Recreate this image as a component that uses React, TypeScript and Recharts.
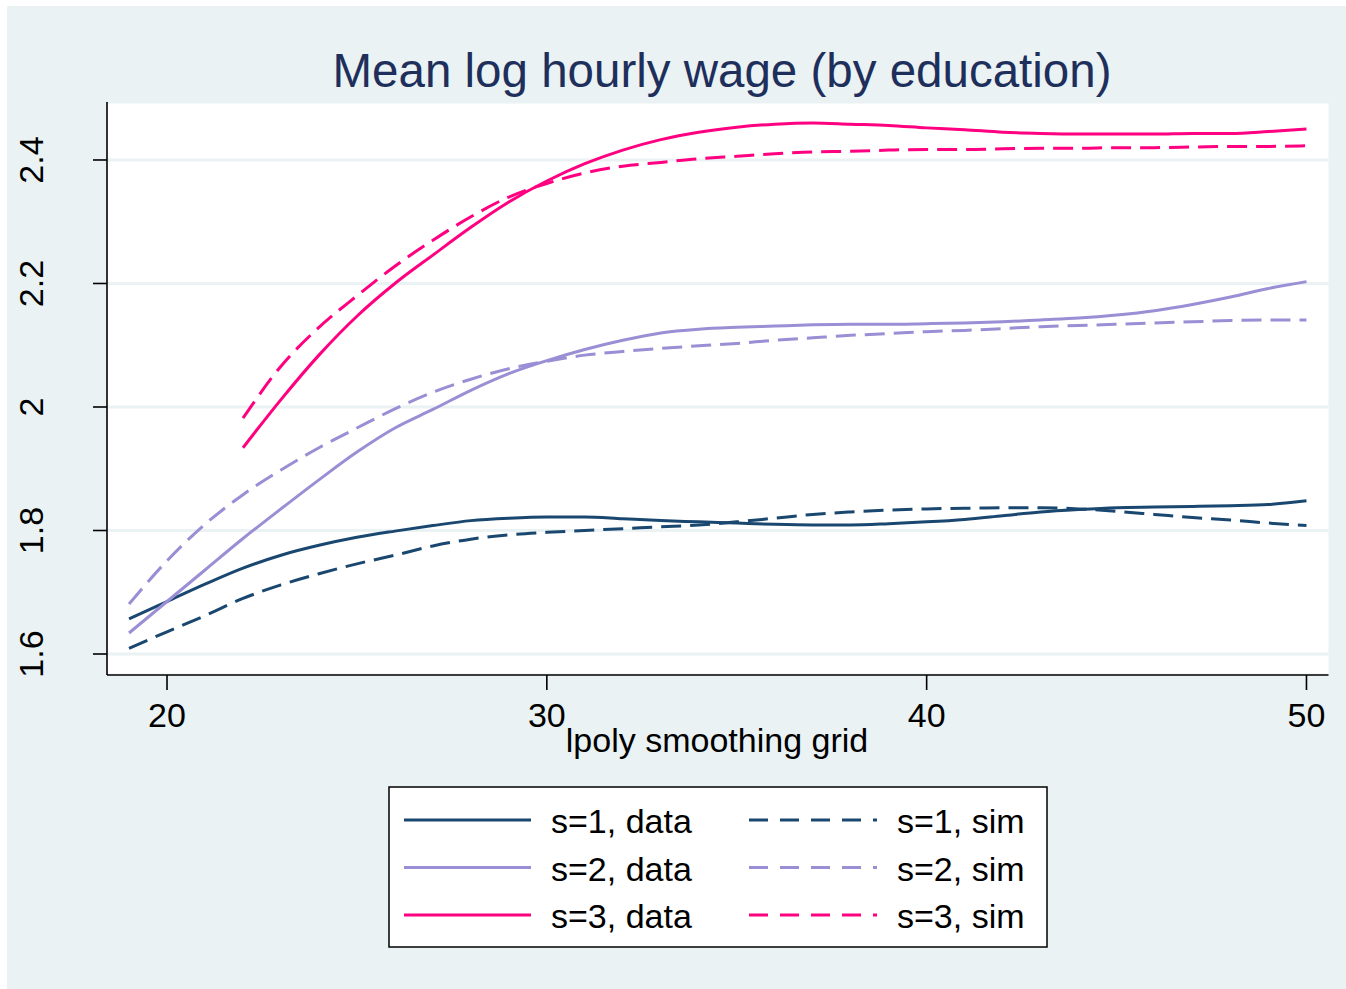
import React from "react";
import { LineChart, Line, XAxis, YAxis, CartesianGrid } from "recharts";

// lpoly grid (age) and smoothed mean log wages
const ages = [19, 20, 21, 22, 23, 24, 25, 26, 27, 28, 29, 30, 31, 32, 33, 34, 35, 36, 37, 38, 39, 40, 41, 42, 43, 44, 45, 46, 47, 48, 49, 50];

const s1Data = [1.657, 1.685, 1.713, 1.739, 1.76, 1.776, 1.789, 1.799, 1.808, 1.816, 1.82, 1.822, 1.822, 1.819, 1.816, 1.814, 1.812, 1.81, 1.809, 1.809, 1.811, 1.814, 1.818, 1.824, 1.83, 1.834, 1.837, 1.838, 1.839, 1.84, 1.842, 1.848];
const s1Sim = [1.609, 1.636, 1.662, 1.69, 1.712, 1.73, 1.746, 1.76, 1.775, 1.786, 1.793, 1.797, 1.8, 1.803, 1.806, 1.809, 1.814, 1.82, 1.826, 1.83, 1.833, 1.835, 1.836, 1.837, 1.837, 1.835, 1.831, 1.826, 1.821, 1.817, 1.812, 1.808];

const s2Data = [1.634, 1.685, 1.736, 1.787, 1.835, 1.882, 1.927, 1.966, 1.996, 2.027, 2.054, 2.075, 2.093, 2.108, 2.12, 2.126, 2.129, 2.131, 2.133, 2.134, 2.134, 2.135, 2.136, 2.138, 2.141, 2.144, 2.149, 2.156, 2.166, 2.178, 2.192, 2.203];
const s2Sim = [1.681, 1.751, 1.81, 1.858, 1.898, 1.934, 1.966, 1.997, 2.024, 2.045, 2.062, 2.074, 2.084, 2.09, 2.095, 2.099, 2.103, 2.108, 2.112, 2.116, 2.119, 2.122, 2.124, 2.127, 2.13, 2.132, 2.134, 2.136, 2.138, 2.14, 2.141, 2.141];

const s3Data = [null, null, null, 1.934, 2.012, 2.084, 2.147, 2.2, 2.246, 2.291, 2.332, 2.366, 2.394, 2.416, 2.433, 2.445, 2.453, 2.458, 2.46, 2.458, 2.456, 2.452, 2.449, 2.445, 2.443, 2.442, 2.442, 2.442, 2.443, 2.443, 2.446, 2.45];
const s3Sim = [null, null, null, 1.982, 2.066, 2.129, 2.18, 2.228, 2.27, 2.308, 2.34, 2.362, 2.379, 2.39, 2.396, 2.402, 2.406, 2.41, 2.413, 2.414, 2.416, 2.417, 2.417, 2.418, 2.419, 2.419, 2.42, 2.42, 2.421, 2.422, 2.422, 2.423];

const xTicks = [20, 30, 40, 50];
const yTicks = [1.6, 1.8, 2, 2.2, 2.4];

const NAVY = "#1a476f";
const LAVENDER = "#9a8ed5";
const PINK = "#ff0080";
const BG = "#eaf2f3";
const FONT = "'Liberation Sans', Arial, Helvetica, sans-serif";

const series = [
  { key: "s1d", name: "s=1, data", color: NAVY, dash: undefined, values: s1Data },
  { key: "s2d", name: "s=2, data", color: LAVENDER, dash: undefined, values: s2Data },
  { key: "s3d", name: "s=3, data", color: PINK, dash: undefined, values: s3Data },
  { key: "s1s", name: "s=1, sim", color: NAVY, dash: "20 9", values: s1Sim },
  { key: "s2s", name: "s=2, sim", color: LAVENDER, dash: "20 9", values: s2Sim },
  { key: "s3s", name: "s=3, sim", color: PINK, dash: "20 9", values: s3Sim },
];

const data = ages.map((age, i) => {
  const row: any = { age };
  series.forEach((s) => {
    row[s.key] = s.values[i];
  });
  return row;
});

const XTick = (props: any) => {
  const { x, y, payload } = props;
  return (
    <text x={x} y={y + 37} textAnchor="middle" fontSize={34} fontFamily={FONT} fill="#000">
      {payload.value}
    </text>
  );
};

const YTick = (props: any) => {
  const { x, y, payload } = props;
  const bx = x - 50;
  return (
    <text x={bx} y={y} transform={`rotate(-90 ${bx} ${y})`} textAnchor="middle" fontSize={34} fontFamily={FONT} fill="#000">
      {payload.value}
    </text>
  );
};

export default function App() {
  const rows = [0, 1, 2];
  return (
    <div style={{ position: "absolute", left: 0, top: 0, width: 1346, height: 989, background: "#fff" }}>
      <div style={{ position: "absolute", left: 7, top: 6, width: 1339, height: 983, background: BG }}>
        <LineChart width={1339} height={983} data={data} margin={{ top: 96, right: 17.5, left: 0, bottom: 0 }}>
          <CartesianGrid vertical={false} fill="#fff" stroke={BG} strokeWidth={3} />
          <XAxis
            dataKey="age"
            type="number"
            domain={[18.42, 50.58]}
            ticks={xTicks}
            allowDataOverflow
            height={314}
            tickSize={15}
            tickMargin={0}
            axisLine={{ stroke: "#000", strokeWidth: 1.6 }}
            tickLine={{ stroke: "#000", strokeWidth: 1.6 }}
            tick={<XTick />}
          />
          <YAxis
            type="number"
            domain={[1.566, 2.4939]}
            ticks={yTicks}
            allowDataOverflow
            width={100}
            tickSize={14}
            tickMargin={0}
            axisLine={{ stroke: "#000", strokeWidth: 1.6 }}
            tickLine={{ stroke: "#000", strokeWidth: 1.6 }}
            tick={<YTick />}
          />
          {series.map((s) => (
            <Line
              key={s.key}
              dataKey={s.key}
              name={s.name}
              type="monotone"
              stroke={s.color}
              strokeWidth={3}
              strokeDasharray={s.dash}
              dot={false}
              activeDot={false}
              isAnimationActive={false}
            />
          ))}
        </LineChart>
      </div>
      <svg width={1346} height={989} style={{ position: "absolute", left: 0, top: 0, pointerEvents: "none" }} fontFamily={FONT}>
        <text x={722} y={87} textAnchor="middle" fontSize={47.5} fill="#1e2f5c">
          Mean log hourly wage (by education)
        </text>
        <text x={717} y={752} textAnchor="middle" fontSize={34} fill="#000">
          lpoly smoothing grid
        </text>
        <rect x={389} y={787} width={658} height={160} fill="#fff" stroke="#000" strokeWidth={1.5} />
        {rows.map((r) => {
          const ly = 820 + r * 47.5;
          const solid = series[r];
          const dashed = series[r + 3];
          return (
            <g key={r}>
              <line x1={404} x2={531} y1={ly} y2={ly} stroke={solid.color} strokeWidth={3} />
              <text x={551} y={ly + 13} fontSize={34} fill="#000">{solid.name}</text>
              <line x1={749} x2={877} y1={ly} y2={ly} stroke={dashed.color} strokeWidth={3} strokeDasharray="19 12" />
              <text x={897} y={ly + 13} fontSize={34} fill="#000">{dashed.name}</text>
            </g>
          );
        })}
      </svg>
    </div>
  );
}
